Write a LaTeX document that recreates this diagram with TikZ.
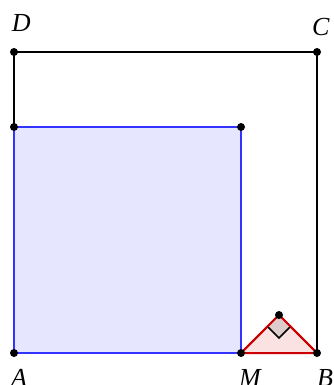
\documentclass[tikz,border=0pt]{standalone}
\usepackage{fontspec}
\setmainfont{Liberation Serif}
\definecolor{bluel}{RGB}{51,51,255}
\definecolor{bluef}{RGB}{230,230,255}
\definecolor{redl}{RGB}{204,0,0}
\definecolor{redf}{RGB}{250,226,226}
\definecolor{markf}{RGB}{222,204,204}
\tikzset{
  dot/.style={circle,fill=black,inner sep=0pt,minimum size=8pt},
  lbl/.style={font=\itshape\fontsize{26}{26}\selectfont,inner sep=0pt,anchor=base west},
}
\begin{document}
\begin{tikzpicture}[x=1pt,y=-1pt,line width=2pt]
\useasboundingbox (0,0) rectangle (333,385);
\coordinate (A) at (14,353);
\coordinate (B) at (317,353);
\coordinate (C) at (317,52);
\coordinate (D) at (14,52);
\coordinate (M) at (241,353);
\coordinate (E) at (14,127);
\coordinate (F) at (241,127);
\coordinate (P) at (279,315);
\draw (A) -- (D) -- (C) -- (B);
\filldraw[draw=bluel,fill=bluef] (A) -- (M) -- (F) -- (E) -- cycle;
\filldraw[draw=redl,fill=redf] (M) -- (B) -- (P) -- cycle;
\fill[markf] (P) -- ++(-11.5,11.5) -- ++(11.5,11.5) -- ++(11.5,-11.5) -- cycle;
\draw[line width=1.6pt] (279,315) ++(-11.5,11.5) -- ++(11.5,11.5) -- ++(11.5,-11.5);
\draw[redl] (M) -- (P) -- (B);
\foreach \p in {A,B,C,D,M,E,F,P} \node[dot] (d\p) at (\p) {};
\node[lbl] (lD) at (11,32) {D};
\node[lbl] (lC) at (311,36) {C};
\node[lbl] (lA) at (10,386) {A};
\node[lbl] (lM) at (238,386) {M};
\node[lbl] (lB) at (316,386) {B};
\end{tikzpicture}
\end{document}
